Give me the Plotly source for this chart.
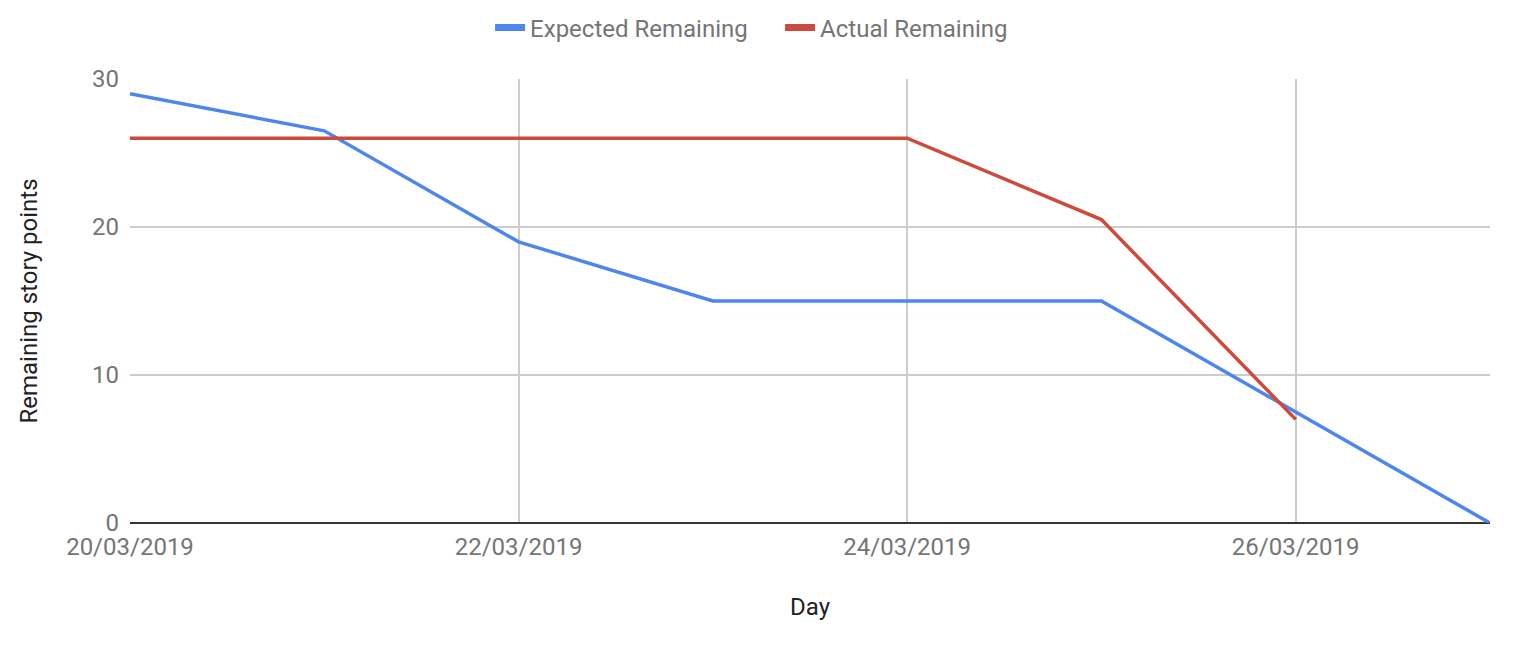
import plotly.graph_objects as go

days = ["2019-03-20", "2019-03-21", "2019-03-22", "2019-03-23",
        "2019-03-24", "2019-03-25", "2019-03-26", "2019-03-27"]
expected = [29, 26.5, 19, 15, 15, 15, 7.5, 0]
actual = [26, 26, 26, 26, 26, 20.5, 7, None]
tick_days = ["2019-03-20", "2019-03-22", "2019-03-24", "2019-03-26"]
tick_text = ["20/03/2019", "22/03/2019", "24/03/2019", "26/03/2019"]

blue = "#4f86ec"
red = "#cc4b3c"

fig = go.Figure()
fig.add_trace(go.Scatter(x=days, y=expected, mode="lines", name="Expected Remaining",
                         line=dict(color=blue, width=3.5), showlegend=False))
fig.add_trace(go.Scatter(x=days, y=actual, mode="lines", name="Actual Remaining",
                         line=dict(color=red, width=3.5), showlegend=False))
# legend-only entries with the thicker key used by the chart
fig.add_trace(go.Scatter(x=[None], y=[None], mode="lines", name="Expected Remaining",
                         line=dict(color=blue, width=7)))
fig.add_trace(go.Scatter(x=[None], y=[None], mode="lines", name="Actual Remaining",
                         line=dict(color=red, width=7)))

font = "Roboto, Arial, sans-serif"
# page body adds 8px around the figure, so the figure is 16px smaller than the window
fig.update_layout(
    width=1498, height=632,
    margin=dict(l=122, r=16, t=71, b=117, autoexpand=False),
    paper_bgcolor="white", plot_bgcolor="white",
    font=dict(family=font, size=24, color="#757575"),
    legend=dict(orientation="h", x=0.478, xanchor="center",
                y=1.115, yanchor="middle", itemwidth=30, entrywidth=245,
                font=dict(size=24, color="#757575")),
)
fig.update_xaxes(
    type="date", range=[days[0], days[-1]],
    tickvals=tick_days, ticktext=tick_text,
    showgrid=True, gridcolor="#cccccc", gridwidth=2,
    showline=False, zeroline=False, ticks="", ticklabelstandoff=7,
    tickfont=dict(size=24, color="#757575"),
    title=dict(text="Day", font=dict(size=24, color="#222222"), standoff=38),
)
fig.update_yaxes(
    range=[0, 30], tickvals=[0, 10, 20, 30],
    showgrid=True, gridcolor="#cccccc", gridwidth=2,
    zeroline=True, zerolinecolor="#333333", zerolinewidth=2,
    ticks="", ticklabelstandoff=10,
    tickfont=dict(size=24, color="#757575"),
    title=dict(text="Remaining story points", font=dict(size=24, color="#222222"), standoff=47),
)

fig.write_html("out.html")
